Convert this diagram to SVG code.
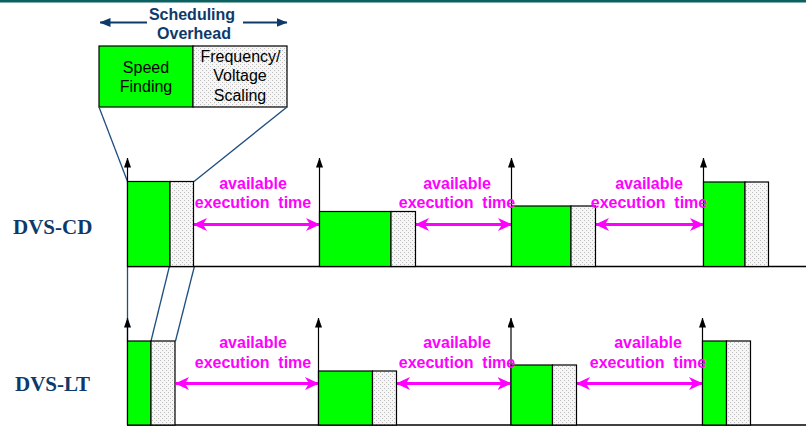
<svg xmlns="http://www.w3.org/2000/svg" width="806" height="427" viewBox="0 0 806 427">
<style>
.bg{fill:#ffffff}
.hdr{font-family:"Liberation Sans",Arial,sans-serif;font-weight:bold;font-size:16px;fill:#0d3a6a;text-anchor:middle}
.box{font-family:"Liberation Sans",Arial,sans-serif;font-size:16px;fill:#000;text-anchor:middle}
.lbl{font-family:"Liberation Serif","Times New Roman",serif;font-weight:bold;font-size:21px;fill:#0d3a6a}
.avail{font-family:"Liberation Sans",Arial,sans-serif;font-weight:bold;font-size:16px;fill:#ff00ff;text-anchor:middle;white-space:pre}
.green{fill:#00ff00;stroke:#000;stroke-width:1.2}
.dot{fill:url(#dots);stroke:#000;stroke-width:1.2}
.base{stroke:#000;stroke-width:1.5;fill:none}
.up{stroke:#000;stroke-width:1.2;fill:none;marker-end:url(#blk)}
.mag{stroke:#ff00ff;stroke-width:3;fill:none;marker-start:url(#mag);marker-end:url(#mag)}
.zoom{stroke:#1f4f80;stroke-width:1.3;fill:none}
.ovh{stroke:#0d3a6a;stroke-width:2;fill:none;marker-end:url(#blu)}
</style>
<defs>
<pattern id="dots" width="4" height="4" patternUnits="userSpaceOnUse">
<rect width="4" height="4" fill="#f6f6f6"/>
<rect x="0" y="0" width="1" height="1" fill="#bdbdbd"/>
<rect x="2" y="2" width="1" height="1" fill="#bdbdbd"/>
</pattern>
<marker id="mag" viewBox="0 0 14 14" refX="13" refY="7" markerWidth="14" markerHeight="14" markerUnits="userSpaceOnUse" orient="auto-start-reverse">
<path d="M0,0.5 L14,7 L0,13.5 L4,7 z" fill="#ff00ff"/>
</marker>
<marker id="blk" viewBox="0 0 10 7" refX="9.5" refY="3.5" markerWidth="10" markerHeight="7" markerUnits="userSpaceOnUse" orient="auto">
<path d="M0,0 L10,3.5 L0,7 z" fill="#000"/>
</marker>
<marker id="blu" viewBox="0 0 11 9" refX="10.5" refY="4.5" markerWidth="11" markerHeight="9" markerUnits="userSpaceOnUse" orient="auto">
<path d="M0,0 L11,4.5 L0,9 z" fill="#0d3a6a"/>
</marker>
</defs>
<rect class="bg" x="0" y="0" width="806" height="427"/>
<rect x="0" y="0" width="806" height="2.5" fill="#0b6060"/>

<g id="scheduling-overhead">
<text class="hdr" x="192" y="20">Scheduling</text>
<text class="hdr" x="194" y="38.5">Overhead</text>
<line class="ovh" x1="147" y1="22.5" x2="100" y2="22.5"/>
<line class="ovh" x1="243" y1="22.5" x2="287" y2="22.5"/>
</g>

<g id="speed-finding">
<rect class="green" x="99" y="46" width="94" height="61"/>
<text class="box" x="146" y="72.7">Speed</text>
<text class="box" x="146" y="92">Finding</text>
</g>
<g id="freq-voltage-scaling">
<rect class="dot" x="193" y="46" width="94" height="61"/>
<text class="box" x="240.5" y="61.7">Frequency/</text>
<text class="box" x="240" y="81.2">Voltage</text>
<text class="box" x="240" y="100.7">Scaling</text>
</g>

<g id="labels">
<text class="lbl" x="13" y="234">DVS-CD</text>
<text class="lbl" x="15" y="391">DVS-LT</text>
</g>

<g id="connectors">
<line class="zoom" x1="99" y1="107" x2="127.5" y2="181.5"/>
<line class="zoom" x1="287" y1="107" x2="194" y2="181.5"/>
<line class="zoom" x1="127.5" y1="266" x2="127.5" y2="341"/>
<line class="zoom" x1="169.5" y1="266" x2="151" y2="341"/>
<line class="zoom" x1="194.5" y1="266" x2="175.5" y2="341"/>
<line class="base" x1="127" y1="266.5" x2="806" y2="266.5"/>
<line class="base" x1="127" y1="425" x2="806" y2="425"/>
<line class="up" x1="127.5" y1="266" x2="127.5" y2="158"/>
<line class="up" x1="319.5" y1="266" x2="319.5" y2="158"/>
<line class="up" x1="511.5" y1="266" x2="511.5" y2="158"/>
<line class="up" x1="703.5" y1="266" x2="703.5" y2="158"/>
<line class="up" x1="127.5" y1="425" x2="127.5" y2="318"/>
<line class="up" x1="318.5" y1="425" x2="318.5" y2="318"/>
<line class="up" x1="511" y1="425" x2="511" y2="318"/>
<line class="up" x1="702.5" y1="425" x2="702.5" y2="318"/>
<line class="mag" x1="194" y1="224.5" x2="319" y2="224.5"/>
<line class="mag" x1="416" y1="224.5" x2="511" y2="224.5"/>
<line class="mag" x1="596" y1="224.5" x2="703" y2="224.5"/>
<line class="mag" x1="176" y1="383.5" x2="318" y2="383.5"/>
<line class="mag" x1="397" y1="383.5" x2="510.5" y2="383.5"/>
<line class="mag" x1="577" y1="383.5" x2="702" y2="383.5"/>
</g>

<g id="cd-task1">
<rect class="green" x="127.5" y="181.5" width="42.5" height="85"/>
<rect class="dot" x="170" y="181.5" width="23.5" height="85"/>
</g>
<g id="cd-task2">
<rect class="green" x="319.5" y="211.5" width="71.5" height="55"/>
<rect class="dot" x="391" y="211.5" width="24.5" height="55"/>
</g>
<g id="cd-task3">
<rect class="green" x="511.5" y="206" width="59.5" height="60.5"/>
<rect class="dot" x="571" y="206" width="24.5" height="60.5"/>
</g>
<g id="cd-task4">
<rect class="green" x="703.5" y="182" width="41.5" height="84.5"/>
<rect class="dot" x="745" y="182" width="23.5" height="84.5"/>
</g>

<g id="lt-task1">
<rect class="green" x="127.5" y="341" width="23.5" height="84"/>
<rect class="dot" x="151" y="341" width="24" height="84"/>
</g>
<g id="lt-task2">
<rect class="green" x="318.5" y="371" width="54" height="54"/>
<rect class="dot" x="372.5" y="371" width="24" height="54"/>
</g>
<g id="lt-task3">
<rect class="green" x="511" y="365" width="41.5" height="60"/>
<rect class="dot" x="552.5" y="365" width="24" height="60"/>
</g>
<g id="lt-task4">
<rect class="green" x="702.5" y="341" width="24" height="84"/>
<rect class="dot" x="726.5" y="341" width="24" height="84"/>
</g>

<g id="available-labels">
<text class="avail" x="253" y="189">available</text>
<text class="avail" x="253" y="208">execution  time</text>
<text class="avail" x="457" y="189">available</text>
<text class="avail" x="457" y="208">execution  time</text>
<text class="avail" x="649" y="189">available</text>
<text class="avail" x="649" y="208">execution  time</text>
<text class="avail" x="253" y="348">available</text>
<text class="avail" x="253" y="368">execution  time</text>
<text class="avail" x="457" y="348">available</text>
<text class="avail" x="457" y="368">execution  time</text>
<text class="avail" x="648" y="348">available</text>
<text class="avail" x="648" y="368">execution  time</text>
</g>
</svg>
